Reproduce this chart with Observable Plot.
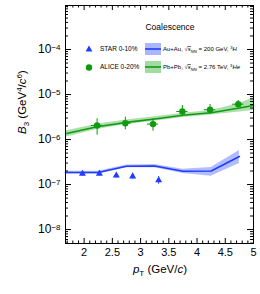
<!DOCTYPE html>
<html><head><meta charset="utf-8">
<script src="https://cdn.jsdelivr.net/npm/d3@7"></script>
<script src="https://cdn.jsdelivr.net/npm/@observablehq/plot@0.6"></script>
<style>body{margin:0;background:#fff}svg{font-family:"Liberation Sans",Arial,sans-serif}</style>
</head><body><div id="chart"></div>
<script>
// STAR 0-10% (triangles)
const starPt = [1.97, 2.27, 2.57, 2.86, 3.32];
const starB3 = [1.73e-7, 1.75e-7, 1.58e-7, 1.52e-7, 1.25e-7];
const starLo = [1.55e-7, 1.58e-7, 1.40e-7, 1.33e-7, 1.02e-7];
const starHi = [1.92e-7, 1.94e-7, 1.78e-7, 1.72e-7, 1.50e-7];
// ALICE 0-20% (circles)
const alicePt = [2.23, 2.73, 3.22, 3.74, 4.23, 4.73];
const aliceB3 = [2.05e-6, 2.3e-6, 2.2e-6, 4.2e-6, 4.6e-6, 6.1e-6];
const aliceLo = [1.25e-6, 1.64e-6, 1.53e-6, 3.24e-6, 3.6e-6, 5.23e-6];
const aliceHi = [2.9e-6, 3.13e-6, 2.88e-6, 5.7e-6, 6.0e-6, 7.35e-6];
const aliceXerr = [0.1, 0.1, 0.1, 0.1, 0.1, 0.1];
// Coalescence, Au+Au 200 GeV (blue)
const auPt = [1.67, 2.25, 2.75, 3.25, 3.75, 4.25, 4.75];
const auMid = [1.85e-7, 1.85e-7, 2.55e-7, 2.58e-7, 1.98e-7, 2.0e-7, 4.2e-7];
const auLo = [1.72e-7, 1.72e-7, 2.36e-7, 2.36e-7, 1.76e-7, 1.52e-7, 2.95e-7];
const auHi = [1.98e-7, 1.98e-7, 2.72e-7, 2.78e-7, 2.18e-7, 2.4e-7, 5.7e-7];
// Coalescence, Pb+Pb 2.76 TeV (green)
const pbPt = [1.67, 2.25, 2.75, 3.25, 3.75, 4.25, 4.75, 5.0];
const pbMid = [1.34e-6, 1.95e-6, 2.4e-6, 2.85e-6, 3.45e-6, 3.95e-6, 5.0e-6, 5.7e-6];
const pbLo = [1.12e-6, 1.7e-6, 2.15e-6, 2.55e-6, 3.1e-6, 3.5e-6, 4.1e-6, 4.4e-6];
const pbHi = [1.55e-6, 2.2e-6, 2.7e-6, 3.2e-6, 3.85e-6, 4.4e-6, 6.3e-6, 8.5e-6];
// ticks
const xTicks = [2, 2.5, 3, 3.5, 4, 4.5, 5];
const yTicks = [1e-8, 1e-7, 1e-6, 1e-5, 1e-4];
const yExp = ["−8", "−7", "−6", "−5", "−4"];

const W = 260, H = 294, mL = 65, mR = 7, mT = 5, mB = 51;
const iW = W - mL - mR, iH = H - mT - mB;
const xDom = [1.67, 5], yDom = [4.9e-9, 9.5e-4];
const xMinor = d3.range(17, 50).map(d => d / 10).filter(d => !xTicks.some(t => Math.abs(t - d) < 1e-9));
const yMinor = [];
for (let e = -9; e <= -4; e++) for (let k = 2; k <= 9; k++) { const v = k * Math.pow(10, e); if (v > yDom[0] && v < yDom[1]) yMinor.push(v); }

const BLUE = "#1f3cff", GREEN = "#0f9a10";
const star = starPt.map((x, i) => ({x, y: starB3[i], lo: starLo[i], hi: starHi[i]}));
const alice = alicePt.map((x, i) => ({x, y: aliceB3[i], lo: aliceLo[i], hi: aliceHi[i], xe: aliceXerr[i]}));
const au = auPt.map((x, i) => ({x, y: auMid[i], lo: auLo[i], hi: auHi[i]}));
const pb = pbPt.map((x, i) => ({x, y: pbMid[i], lo: pbLo[i], hi: pbHi[i]}));

const plot = Plot.plot({
  width: W, height: H, marginLeft: mL, marginRight: mR, marginTop: mT, marginBottom: mB,
  x: {domain: xDom}, y: {type: "log", domain: yDom},
  style: {fontFamily: "Liberation Sans, Arial, sans-serif", fontSize: "11px", color: "black"},
  marks: [
    Plot.areaY(pb, {x: "x", y1: "lo", y2: "hi", fill: "#a3dca3", fillOpacity: 0.9}),
    Plot.areaY(au, {x: "x", y1: "lo", y2: "hi", fill: "#aab6ff", fillOpacity: 0.9}),
    Plot.line(pb, {x: "x", y: "y", stroke: GREEN, strokeWidth: 1.6}),
    Plot.line(au, {x: "x", y: "y", stroke: BLUE, strokeWidth: 1.6}),
    Plot.ruleX(alice, {x: "x", y1: "lo", y2: "hi", stroke: GREEN, strokeWidth: 1}),
    Plot.ruleY(alice, {y: "y", x1: d => d.x - d.xe, x2: d => d.x + d.xe, stroke: GREEN, strokeWidth: 1}),
    Plot.dot(alice, {x: "x", y: "y", r: 3.2, fill: GREEN}),
    Plot.ruleX(star, {x: "x", y1: "lo", y2: "hi", stroke: BLUE, strokeWidth: 1}),
    Plot.dot(star, {x: "x", y: "y", r: 2.6, symbol: "triangle", fill: BLUE}),
    // inward ticks
    Plot.ruleX(xTicks, {x: d => d, insetTop: iH - 5, stroke: "black"}),
    Plot.ruleX(xTicks, {x: d => d, insetBottom: iH - 5, stroke: "black"}),
    Plot.ruleX(xMinor, {x: d => d, insetTop: iH - 2.5, stroke: "black"}),
    Plot.ruleX(xMinor, {x: d => d, insetBottom: iH - 2.5, stroke: "black"}),
    Plot.ruleY(yTicks, {y: d => d, insetRight: iW - 6, stroke: "black"}),
    Plot.ruleY(yTicks, {y: d => d, insetLeft: iW - 6, stroke: "black"}),
    Plot.ruleY(yMinor, {y: d => d, insetRight: iW - 3, stroke: "black"}),
    Plot.ruleY(yMinor, {y: d => d, insetLeft: iW - 3, stroke: "black"}),
    Plot.frame({stroke: "black", strokeWidth: 1}),
    Plot.axisX({ticks: xTicks, tickSize: 0, tickPadding: 5, tickFormat: d => String(d), fontSize: 11, label: null}),
    Plot.axisY({ticks: yTicks, tickSize: 0, tickPadding: 5, tickFormat: d => "10", fontSize: 12, label: null})
  ]
});
document.getElementById("chart").appendChild(plot);

const svg = d3.select(plot);
// superscript exponents on y tick labels
svg.selectAll('g[aria-label="y-axis tick label"] text').each(function(d, i) {
  const t = d3.select(this);
  t.text("10");
  t.append("tspan").attr("dy", "-0.45em").attr("font-size", "8px").text(yExp[i]);
});

// axis titles
const xt = svg.append("text").attr("x", 160).attr("y", 273).attr("text-anchor", "middle").attr("font-size", 11.5).attr("fill", "black");
xt.append("tspan").attr("font-style", "italic").text("p");
xt.append("tspan").attr("dy", 3).attr("font-size", 8).text("T");
xt.append("tspan").attr("dy", -3).text(" (GeV/");
xt.append("tspan").attr("font-style", "italic").text("c");
xt.append("tspan").text(")");

const yt = svg.append("text").attr("transform", "translate(26,134) rotate(-90)").attr("text-anchor", "start").attr("font-size", 11.5).attr("fill", "black");
yt.append("tspan").attr("font-style", "italic").text("B");
yt.append("tspan").attr("dy", 3).attr("font-size", 8).text("3");
yt.append("tspan").attr("dy", -3).text(" (GeV");
yt.append("tspan").attr("dy", -4).attr("font-size", 8).text("4");
yt.append("tspan").attr("dy", 4).text("/");
yt.append("tspan").attr("font-style", "italic").text("c");
yt.append("tspan").attr("dy", -4).attr("font-size", 8).text("6");
yt.append("tspan").attr("dy", 4).text(")");

// legend
const lg = svg.append("g").attr("fill", "black").attr("text-anchor", "start");
lg.append("text").attr("x", 170).attr("y", 30).attr("text-anchor", "middle").attr("font-size", 8.5).text("Coalescence");
const rows = [
  {cy: 49, sym: "tri", color: BLUE, band: "#aab6ff", exp: "STAR 0-10%", sys: "Au+Au, ", en: " = 200 GeV, ", nuc: "H"},
  {cy: 67, sym: "circ", color: GREEN, band: "#a3dca3", exp: "ALICE 0-20%", sys: "Pb+Pb, ", en: " = 2.76 TeV, ", nuc: "He"}
];
rows.forEach(r => {
  if (r.sym === "tri") lg.append("path").attr("d", d3.symbol(d3.symbolTriangle, 20)()).attr("transform", `translate(89,${r.cy + 0.5})`).attr("fill", r.color);
  else lg.append("circle").attr("cx", 89).attr("cy", r.cy + 0.5).attr("r", 3.2).attr("fill", r.color);
  lg.append("text").attr("x", 100).attr("y", r.cy + 2.3).attr("font-size", 6.5).text(r.exp);
  lg.append("rect").attr("x", 145).attr("y", r.cy - 6).attr("width", 16).attr("height", 12).attr("fill", r.band);
  lg.append("line").attr("x1", 145).attr("x2", 161).attr("y1", r.cy).attr("y2", r.cy).attr("stroke", r.color).attr("stroke-width", 1.6);
  const t = lg.append("text").attr("x", 163).attr("y", r.cy + 2.2).attr("font-size", 6);
  t.append("tspan").text(r.sys + "√");
  t.append("tspan").attr("font-style", "italic").attr("text-decoration", "overline").text("s");
  t.append("tspan").attr("dy", 1.5).attr("font-size", 4.2).attr("font-style", "italic").text("NN");
  t.append("tspan").attr("dy", -1.5).text(r.en);
  t.append("tspan").attr("dy", -2.5).attr("font-size", 4.2).text("3");
  t.append("tspan").attr("dy", 2.5).attr("font-style", "italic").text(r.nuc);
});
</script></body></html>
